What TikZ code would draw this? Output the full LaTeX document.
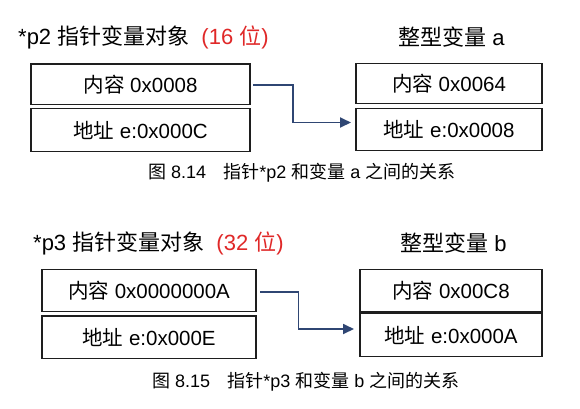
\documentclass[tikz,border=0pt]{standalone}
\usepackage{fontspec}
\setmainfont{Liberation Sans}
\newfontfamily\cjk{Noto Sans CJK SC}
\usetikzlibrary{arrows.meta}
\definecolor{ptrblue}{HTML}{2F4673}
\definecolor{bitred}{HTML}{E02828}
\definecolor{boxline}{HTML}{1E1E1E}
\begin{document}
\begin{tikzpicture}[x=1pt,y=-1pt,
  cell/.style={draw=boxline, line width=1.3pt, inner sep=0pt, font=\fontsize{20.5}{24}\selectfont},
  ttl/.style={anchor=west, inner sep=0pt, font=\fontsize{22}{26}\selectfont},
  captxt/.style={anchor=west, inner sep=0pt, font=\fontsize{18}{21}\selectfont},
  ptr/.style={draw=ptrblue, line width=1.8pt, -{Triangle[length=11pt,width=10pt]}}]
\useasboundingbox[fill=white] (0,0) rectangle (580,408);

% ---- figure 8.14 ----
\node[ttl] (t1) at (18,37) {*p2 {\cjk 指针变量对象}\hspace{0.55em}\textcolor{bitred}{(16 {\cjk 位})}};
\node[ttl] (t2) at (398,37) {{\cjk 整型变量} a};
\node[cell, minimum width=219pt, minimum height=40.7pt] (a1) at (140.5,84.2) {{\cjk 内容} 0x0008};
\node[cell, minimum width=219pt, minimum height=43.2pt] (a2) at (140.5,130) {{\cjk 地址} e:0x000C};
\node[cell, minimum width=186pt, minimum height=40pt] (b1) at (449,83.5) {{\cjk 内容} 0x0064};
\node[cell, minimum width=186pt, minimum height=42.5pt] (b2) at (449,129.5) {{\cjk 地址} e:0x0008};
\node[captxt] (c1) at (148,173) {{\cjk 图} 8.14\hspace{0.95em}{\cjk 指针}*p2 {\cjk 和变量} a {\cjk 之间的关系}};
\coordinate (s1) at (253,85);
\coordinate (k1) at (293,85);
\coordinate (e1) at (351,122.5);
\draw[ptr] (s1) -- (k1) |- (e1);

% ---- figure 8.15 ----
\node[ttl] (t3) at (33,243) {*p3 {\cjk 指针变量对象}\hspace{0.55em}\textcolor{bitred}{(32 {\cjk 位})}};
\node[ttl] (t4) at (400,243) {{\cjk 整型变量} b};
\node[cell, minimum width=214pt, minimum height=42.4pt] (p1) at (149,290.5) {{\cjk 内容} 0x0000000A};
\node[cell, minimum width=214pt, minimum height=42.3pt] (p2) at (149,337.2) {{\cjk 地址} e:0x000E};
\node[cell, minimum width=182pt, minimum height=42.7pt] (q1) at (451,290.7) {{\cjk 内容} 0x00C8};
\node[cell, minimum width=182pt, minimum height=43.4pt] (q2) at (451,335) {{\cjk 地址} e:0x000A};
\node[captxt] (c2) at (152,382) {{\cjk 图} 8.15\hspace{0.95em}{\cjk 指针}*p3 {\cjk 和变量} b {\cjk 之间的关系}};
\coordinate (s2) at (260,291.7);
\coordinate (k2) at (298.5,291.7);
\coordinate (e2) at (354,329);
\draw[ptr] (s2) -- (k2) |- (e2);
\end{tikzpicture}
\end{document}
